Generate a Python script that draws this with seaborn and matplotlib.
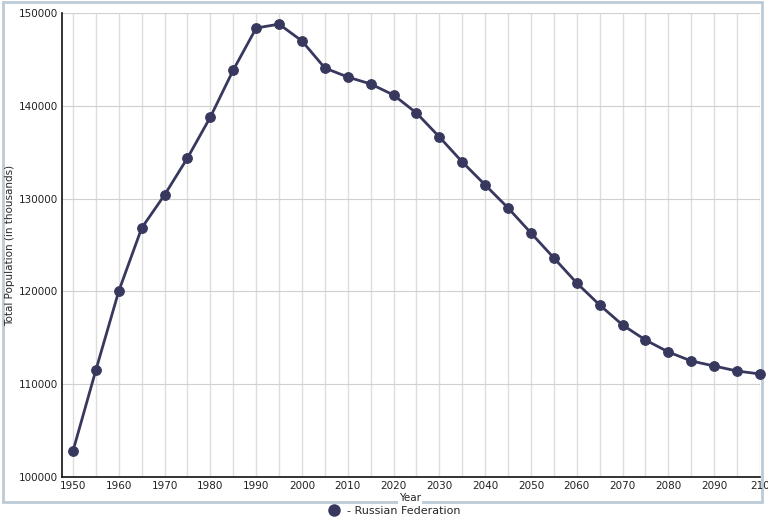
import matplotlib
matplotlib.use('Agg')
import matplotlib.pyplot as plt
from matplotlib.lines import Line2D
from matplotlib.patches import Rectangle
import seaborn as sns
import pandas as pd

years = list(range(1950, 2101, 5))
population = [102800, 111530, 120040, 126830, 130400, 134380, 138790, 143860,
              148380, 148800, 146980, 144070, 143100, 142350, 141160, 139220,
              136640, 133940, 131470, 128990, 126290, 123600, 120900, 118530,
              116380, 114760, 113470, 112500, 111960, 111420, 111100]
country = 'Russian Federation'

df = pd.DataFrame({'Year': years, 'Population': population})

sns.set_style('white')
plt.rcParams['font.family'] = ['DejaVu Sans']
line_col = '#38385f'

fig = plt.figure(figsize=(7.68, 5.2), dpi=100)
ax = fig.add_axes([62 / 768, 1 - 477 / 520, (760 - 62) / 768, (477 - 13) / 520])

sns.lineplot(data=df, x='Year', y='Population', ax=ax, color=line_col,
             linewidth=2, marker='o', markersize=7, markeredgecolor=line_col,
             clip_on=False, zorder=3)

ax.set_xlim(1947.6, 2100)
ax.set_ylim(100000, 150000)
ax.set_xticks(range(1950, 2101, 10))
ax.set_xticklabels([str(y) for y in range(1950, 2091, 10)] + ['210'])
ax.set_xticks(range(1950, 2101, 5), minor=True)
ax.set_yticks(range(100000, 150001, 10000))
ax.grid(True, which='both', axis='x', color='#dddddd', linewidth=1)
ax.grid(True, which='major', axis='y', color='#d0d0d0', linewidth=0.8)
ax.tick_params(which='both', length=0, labelsize=7.5, colors='#222222', pad=3)

for s in ['top', 'right']:
    ax.spines[s].set_visible(False)
for s in ['left', 'bottom']:
    ax.spines[s].set_color('#111111')
    ax.spines[s].set_linewidth(1.2)

ax.set_xlabel('Year', fontsize=7.5,
              bbox=dict(facecolor='white', edgecolor='none', pad=1))
ax.set_ylabel('Total Population (in thousands)', fontsize=7.5)
ax.xaxis.set_label_coords((410 - 62) / 698, -(493 - 477) / 464)
ax.yaxis.set_label_coords(-(62 - 15) / 698, 0.5)

fig.patches.append(Rectangle((3 / 768, 1 - 502 / 520), 759 / 768, 500 / 520,
                             transform=fig.transFigure, fill=False,
                             edgecolor='#bccbd6', linewidth=2, zorder=-1))

handle = Line2D([], [], color=line_col, marker='o', linestyle='None', markersize=8)
fig.legend([handle], ['- ' + country], loc='center', bbox_to_anchor=(0.51, 1 - 511 / 520),
           frameon=False, fontsize=8, handletextpad=0.2, borderpad=0)

fig.savefig('out.png', dpi=100)
